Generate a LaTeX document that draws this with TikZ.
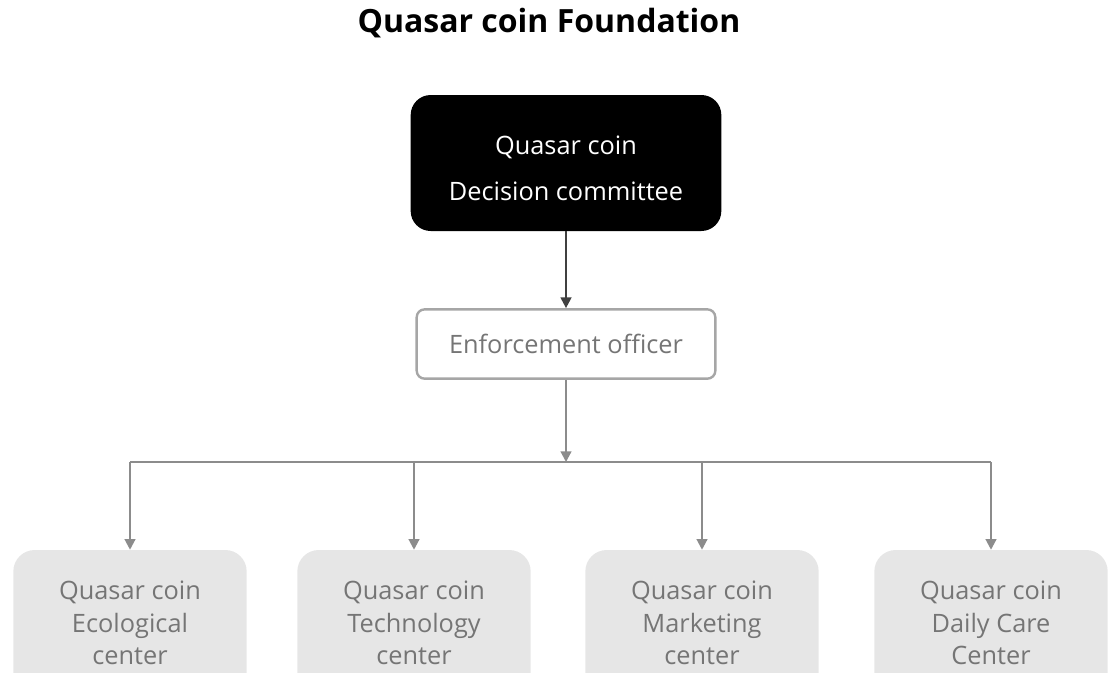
\documentclass[tikz,border=0pt]{standalone}
\usepackage{fontspec}
\setmainfont{Open Sans}
\usetikzlibrary{arrows.meta}

\definecolor{boxgray}{HTML}{E6E6E6}
\definecolor{linegray}{HTML}{8C8C8C}
\definecolor{textgray}{HTML}{757575}

\begin{document}
\begin{tikzpicture}[x=0.75pt,y=-0.75pt,
		tip/.style={-{Triangle[length=8pt,width=8pt]}}]
		\useasboundingbox (0,0) rectangle (1112,672);
		\clip (0,0) rectangle (1112,672);

		\node[anchor=base,font=\fontsize{24}{28}\bfseries\selectfont] (title) at (549,32) {Quasar coin Foundation};

		\begin{scope}[every node/.style={align=center,font=\fontsize{19}{25}\selectfont}]
			\node[fill=black,text=white,rounded corners=15pt,minimum width=233pt,minimum height=102pt] (board) at (566,163) {\rule{0pt}{22pt}Quasar coin\\[9pt]Decision committee};
			\node[draw=black!35,line width=1.8pt,text=textgray,rounded corners=6pt,minimum width=224pt,minimum height=52pt] (officer) at (566,344) {Enforcement officer};
			\coordinate (split) at (566,462);
		\end{scope}

		\begin{scope}[every node/.style={fill=boxgray,text=textgray,align=center,rounded corners=16pt,
					  minimum width=175pt,minimum height=109.5pt,font=\fontsize{19}{24.5}\selectfont}]
			\node (eco) at (130,623) {Quasar coin\\Ecological\\center};
			\node (tech) at (414,623) {Quasar coin\\Technology\\center};
			\node (mkt) at (702,623) {Quasar coin\\Marketing\\center};
			\node (care) at (991,623) {Quasar coin\\Daily Care\\Center};
		\end{scope}

		\begin{scope}[every edge/.style={draw=linegray,line width=1.6pt}]
			\path [tip] (board) edge[draw=black!75] (officer);
			\path [tip] (officer) edge (split);
			\path (eco.north |- split) edge (care.north |- split);
			\foreach \n in {eco,tech,mkt,care}
				\path [tip] (\n.north |- split) edge (\n.north);
		\end{scope}
	\end{tikzpicture}
\end{document}
